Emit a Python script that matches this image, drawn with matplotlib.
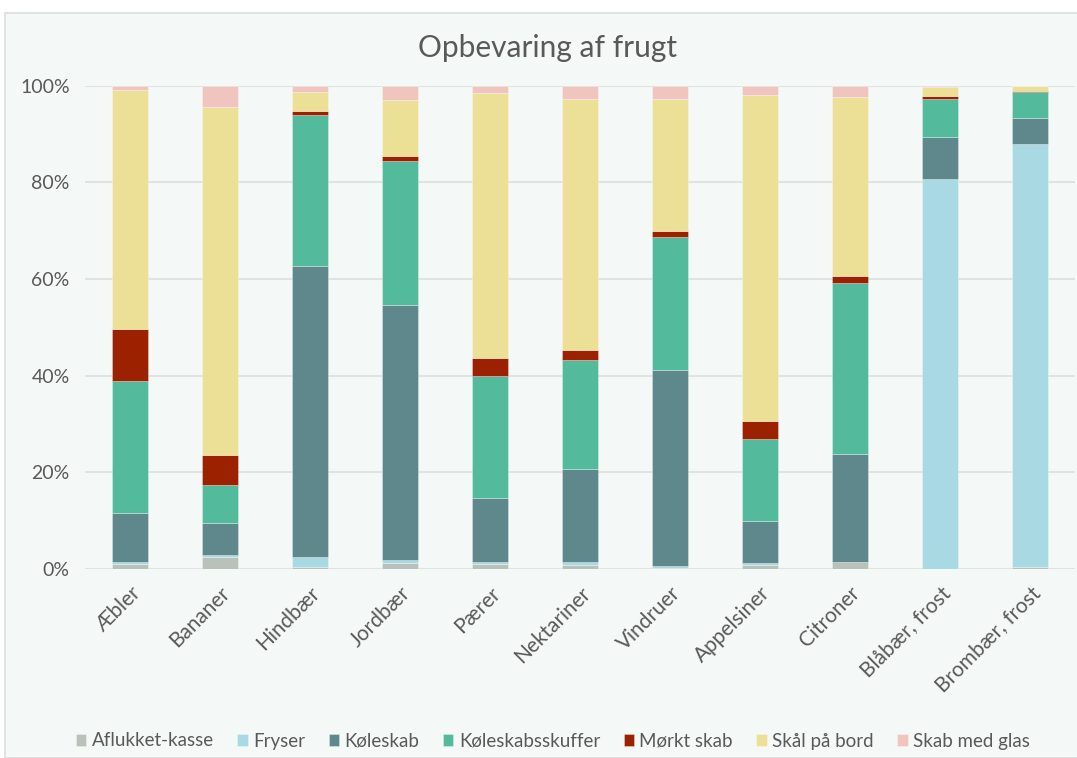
import matplotlib
matplotlib.use("Agg")
import matplotlib.pyplot as plt
from matplotlib.patches import Rectangle
from matplotlib.ticker import FuncFormatter
import numpy as np

plt.rcParams['font.family'] = ['Lato', 'DejaVu Sans']

categories = ["Æbler", "Bananer", "Hindbær", "Jordbær", "Pærer", "Nektariner",
              "Vindruer", "Appelsiner", "Citroner", "Blåbær, frost", "Brombær, frost"]

aflukket_kasse = [1.0, 2.5, 0.4, 1.2, 1.0, 0.8, 0.2, 0.9, 1.4, 0.1, 0.4]
fryser = [0.4, 0.3, 2.1, 0.7, 0.4, 0.6, 0.4, 0.3, 0.1, 80.6, 87.5]
koeleskab = [10.2, 6.8, 60.2, 52.8, 13.2, 19.3, 40.5, 8.7, 22.2, 8.7, 5.5]
koeleskabsskuffer = [27.4, 7.8, 31.3, 29.8, 25.4, 22.6, 27.6, 16.9, 35.5, 7.9, 5.2]
moerkt_skab = [10.7, 6.1, 0.8, 0.9, 3.7, 2.0, 1.2, 3.8, 1.5, 0.6, 0.2]
skaal_paa_bord = [49.5, 72.1, 3.8, 11.6, 54.7, 51.9, 27.3, 67.5, 37.0, 1.9, 1.1]
skab_med_glas = [0.8, 4.4, 1.4, 3.0, 1.6, 2.8, 2.8, 1.9, 2.3, 0.2, 0.1]

series = [
    ("Aflukket-kasse", aflukket_kasse, "#b8c1ba"),
    ("Fryser", fryser, "#a9dae4"),
    ("Køleskab", koeleskab, "#5f888c"),
    ("Køleskabsskuffer", koeleskabsskuffer, "#53bb9c"),
    ("Mørkt skab", moerkt_skab, "#9b2100"),
    ("Skål på bord", skaal_paa_bord, "#ecdf96"),
    ("Skab med glas", skab_med_glas, "#f0c5bf"),
]

W, H = 1077, 758
fig = plt.figure(figsize=(W / 100, H / 100), dpi=100, facecolor="white")
panel_color = "#f4f8f7"
fig.patches.append(Rectangle((5 / W, 0), 1.2, (H - 13) / H, transform=fig.transFigure,
                             facecolor=panel_color, edgecolor="#dcdedd", linewidth=1.2,
                             zorder=-10))

ax = fig.add_axes([85 / W, 189 / H, 990 / W, 483.3 / H])
ax.set_facecolor(panel_color)
ax.set_zorder(1)

x = np.arange(len(categories))
bottom = np.zeros(len(categories))
for name, vals, color in series:
    v = np.array(vals)
    ax.bar(x, v, width=0.4, bottom=bottom, color=color, label=name,
           edgecolor=(1, 1, 1, 0.35), linewidth=0.6, zorder=3)
    bottom += v

ax.set_xlim(-0.5, len(categories) - 0.5)
ax.set_ylim(0, 100)
ax.set_yticks(np.arange(0, 101, 20))
ax.yaxis.set_major_formatter(FuncFormatter(lambda v, p: f"{int(v)}%"))
ax.grid(axis="y", color="#e1e3e2", linewidth=1.5, zorder=0)
ax.set_axisbelow(True)
for s in ax.spines.values():
    s.set_visible(False)
ax.tick_params(axis="both", length=0, colors="#595959", labelsize=14)
ax.tick_params(axis="y", pad=11)
ax.set_xticks(x)
ax.set_xticklabels(categories, rotation=45, ha="right", rotation_mode="anchor",
                   fontsize=15, color="#595959")
ax.tick_params(axis="x", pad=10)

fig.text(548 / W, 1 - 48 / H, "Opbevaring af frugt", ha="center", va="center",
         fontsize=21.5, color="#595959")

leg = fig.legend(loc="center", bbox_to_anchor=(553 / W, 1 - 741 / H), ncol=7,
                 frameon=False, fontsize=13.5, handlelength=0.55, handleheight=0.55,
                 handletextpad=0.3, columnspacing=1.25, labelcolor="#595959")

fig.savefig("out.png", dpi=100, facecolor="white")
